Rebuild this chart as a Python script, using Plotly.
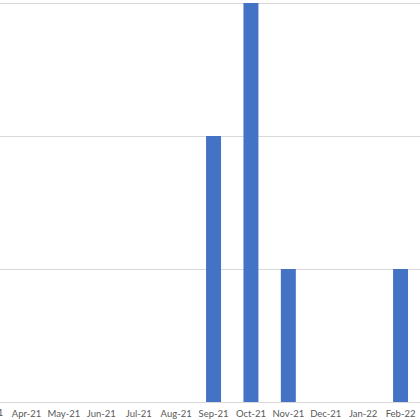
import plotly.graph_objects as go

months = ["Mar-21", "Apr-21", "May-21", "Jun-21", "Jul-21", "Aug-21",
          "Sep-21", "Oct-21", "Nov-21", "Dec-21", "Jan-22", "Feb-22"]
counts = [0, 0, 0, 0, 0, 0, 2, 3, 1, 0, 0, 1]

bar_color = "#4472c4"
grid_color = "#d9d9d9"
label_color = "#595959"
x_range = [0.291, 11.52]

fig = go.Figure()
fig.add_trace(go.Bar(x=months, y=counts, marker=dict(color=bar_color, line=dict(width=0))))

# first label is mostly off the left edge (only its "1" shows); plotly drops it as a
# tick, so pin its right end just inside the window
fig.add_annotation(x=0, y=0, xref="paper", yref="y", text=months[0],
                   showarrow=False, xanchor="right", yanchor="top",
                   xshift=5, yshift=-3,
                   font=dict(family="Lato", size=9.5, color=label_color))

fig.update_layout(
    width=420, height=420,
    margin=dict(l=0, r=0, t=0, b=18),
    plot_bgcolor="white", paper_bgcolor="white",
    bargap=0.6,
    showlegend=False,
    font=dict(family="Lato", size=9.5, color=label_color),
)
fig.update_xaxes(type="category", range=x_range, showgrid=False,
                 showline=True, linecolor=grid_color, linewidth=1,
                 ticks="", ticklabelstandoff=3,
                 tickfont=dict(family="Lato", size=9.5, color=label_color))
fig.update_yaxes(range=[0, 3.0226], dtick=1, showgrid=True, gridcolor=grid_color,
                 gridwidth=1, zeroline=False, showticklabels=False)

# page body has a default 8px margin, drop it so the chart fills the window
fig.write_html("out.html", config={"displayModeBar": False},
               post_script="document.body.style.margin='0';")
